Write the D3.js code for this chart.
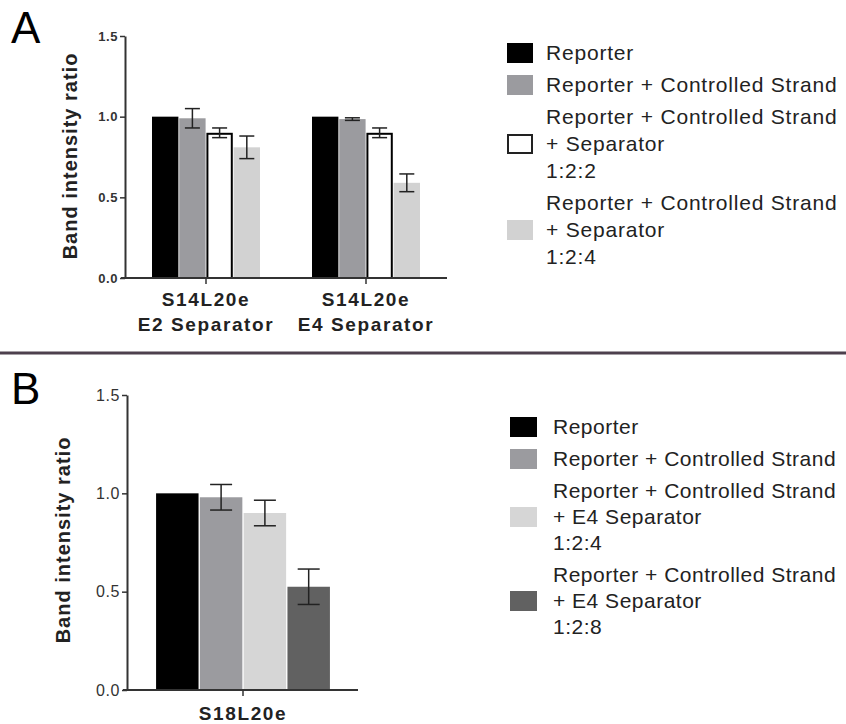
<!DOCTYPE html>
<html><head><meta charset="utf-8">
<script src="https://cdn.jsdelivr.net/npm/d3@7"></script>
<style>body{margin:0;background:#fff}svg{display:block;font-family:"Liberation Sans",Arial,sans-serif}</style>
</head><body><svg id="c" width="846" height="724"></svg>
<script>
// Panel A data
const groupsA = [["S14L20e","E2 Separator"],["S14L20e","E4 Separator"]];
const seriesA = ["Reporter","Reporter + Controlled Strand","1:2:2","1:2:4"];
const valuesA = [[1.0,0.99,0.90,0.81],[1.0,0.985,0.90,0.59]];
const errorsA = [[0,0.06,0.03,0.07],[0,0.008,0.03,0.055]];
const colorsA = ["#000000","#9b9b9f","#ffffff","#d2d2d2"];
const legendA = [["Reporter"],["Reporter + Controlled Strand"],["Reporter + Controlled Strand","+ Separator","1:2:2"],["Reporter + Controlled Strand","+ Separator","1:2:4"]];
// Panel B data
const groupsB = [["S18L20e"]];
const seriesB = ["Reporter","Reporter + Controlled Strand","1:2:4","1:2:8"];
const valuesB = [[1.0,0.98,0.90,0.525]];
const errorsB = [[0,0.065,0.065,0.09]];
const colorsB = ["#000000","#9b9b9f","#d6d6d6","#616161"];
const legendB = [["Reporter"],["Reporter + Controlled Strand"],["Reporter + Controlled Strand","+ E4 Separator","1:2:4"],["Reporter + Controlled Strand","+ E4 Separator","1:2:8"]];
const yTicks = [0,0.5,1.0,1.5];
const yTitle = "Band intensity ratio";

const svg = d3.select("#c");

function panel(o){
  const g = svg.append("g");
  const y = d3.scaleLinear().domain([0,1.5]).range([o.y0,o.y1]);
  const x0 = d3.scaleBand().domain(o.groups.map((d,i)=>i)).range([o.xl,o.xr]).paddingInner(o.pi).paddingOuter(o.po);
  const x1 = d3.scaleBand().domain(o.series.map((d,i)=>i)).range([0,x0.bandwidth()]).paddingInner(o.bp);
  // bars
  o.values.forEach((vals,gi)=>{
    vals.forEach((v,si)=>{
      const bx = x0(gi)+x1(si);
      const white = o.colors[si]==="#ffffff";
      g.append("rect").attr("x",bx+(white?1:0)).attr("y",y(v)+(white?1:0))
        .attr("width",x1.bandwidth()-(white?2:0)).attr("height",y(0)-y(v)-(white?1:0))
        .attr("fill",o.colors[si]).attr("stroke",white?"#000":"none").attr("stroke-width",white?2:0);
      const e = o.errors[gi][si];
      if(e>0){
        const cx = bx+x1.bandwidth()/2;
        const ew = o.capW;
        g.append("line").attr("x1",cx).attr("x2",cx).attr("y1",y(v+e)).attr("y2",y(v-e)).attr("stroke","#222").attr("stroke-width",1.5);
        g.append("line").attr("x1",cx-ew/2).attr("x2",cx+ew/2).attr("y1",y(v+e)).attr("y2",y(v+e)).attr("stroke","#222").attr("stroke-width",1.5);
        g.append("line").attr("x1",cx-ew/2).attr("x2",cx+ew/2).attr("y1",y(v-e)).attr("y2",y(v-e)).attr("stroke","#222").attr("stroke-width",1.5);
      }
    });
  });
  // y axis
  const ya = g.append("g").attr("transform",`translate(${o.ax},0)`)
    .call(d3.axisLeft(y).tickValues(yTicks).tickFormat(d3.format(".1f")).tickSize(5).tickSizeOuter(0).tickPadding(2));
  ya.select(".domain").attr("stroke","#333").attr("stroke-width",2);
  ya.selectAll(".tick line").attr("stroke","#333").attr("stroke-width",1.5);
  ya.selectAll("text").attr("font-size",o.tickFs).attr("font-weight",o.tickW).attr("fill","#333")
    .attr("font-family","Liberation Sans, Arial, sans-serif").style("letter-spacing","0.6px");
  // x axis
  const xa = g.append("g").attr("transform",`translate(0,${o.y0})`)
    .call(d3.axisBottom(x0).tickSize(6).tickSizeOuter(0).tickFormat(""));
  xa.select(".domain").attr("d",`M${o.ax-4},0H${o.xe}`).attr("stroke","#333").attr("stroke-width",2);
  xa.selectAll(".tick line").attr("stroke","#333").attr("stroke-width",1.5);
  o.groups.forEach((lines,gi)=>{
    lines.forEach((t,li)=>{
      g.append("text").attr("x",x0(gi)+x0.bandwidth()/2).attr("y",o.y0+o.catDy+li*o.catLh)
        .attr("text-anchor","middle").attr("font-size",o.catFs).attr("font-weight","bold").attr("fill","#222")
        .style("letter-spacing","1.6px").text(t);
    });
  });
  // y title
  g.append("text").attr("transform",`translate(${o.titleX},${o.titleY}) rotate(-90)`)
    .attr("text-anchor","middle").attr("font-size",o.titleFs).attr("font-weight","bold").attr("fill","#222")
    .style("letter-spacing","1px").text(yTitle);
  // panel letter
  g.append("text").attr("x",o.letterX).attr("y",o.letterY).attr("font-size",44).attr("fill","#000").text(o.letter);
  // legend
  let cy = o.legY;
  o.legend.forEach((lines,i)=>{
    const mid = cy + (lines.length-1)*o.legLh/2;
    const white = o.colors[i]==="#ffffff";
    g.append("rect").attr("x",o.legX+(white?1:0)).attr("y",mid-o.sqH/2+(white?1:0)).attr("width",o.sqW-(white?2:0)).attr("height",o.sqH-(white?2:0))
      .attr("fill",o.colors[i]).attr("stroke",white?"#222":"none").attr("stroke-width",2);
    lines.forEach((t,li)=>{
      g.append("text").attr("x",o.legTx).attr("y",cy+li*o.legLh).attr("dy","0.35em")
        .attr("font-size",o.legFs).attr("fill","#222").style("letter-spacing",o.legLs).text(t);
    });
    cy += lines.length*o.legLh + o.legGap;
  });
}

panel({groups:groupsA,series:seriesA,values:valuesA,errors:errorsA,colors:colorsA,legend:legendA,
  y0:278,y1:36,xl:126,xr:446,pi:0.325,po:0.1625,bp:0.03,ax:125,xe:447,capW:15,
  tickFs:13,tickW:"bold",catFs:19,catDy:28,catLh:25,titleX:77,titleY:156,titleFs:20,
  letter:"A",letterX:11,letterY:43,
  legX:507,legTx:546,legY:53,legLh:27,legGap:5,sqW:26,sqH:20,legFs:21,legLs:"0.8px"});

panel({groups:groupsB,series:seriesB,values:valuesB,errors:errorsB,colors:colorsB,legend:legendB,
  y0:690,y1:395,xl:130,xr:356,pi:0,po:0.15,bp:0.03,ax:127,xe:358,capW:22,
  tickFs:16,tickW:"normal",catFs:19,catDy:30,catLh:25,titleX:70,titleY:540,titleFs:20,
  letter:"B",letterX:11,letterY:404,
  legX:510,legTx:553,legY:427,legLh:26,legGap:6,sqW:27,sqH:20,legFs:21,legLs:"0.5px"});

// separator
svg.append("line").attr("x1",0).attr("x2",846).attr("y1",353).attr("y2",353).attr("stroke","#4d404d").attr("stroke-width",3);
</script></body></html>
